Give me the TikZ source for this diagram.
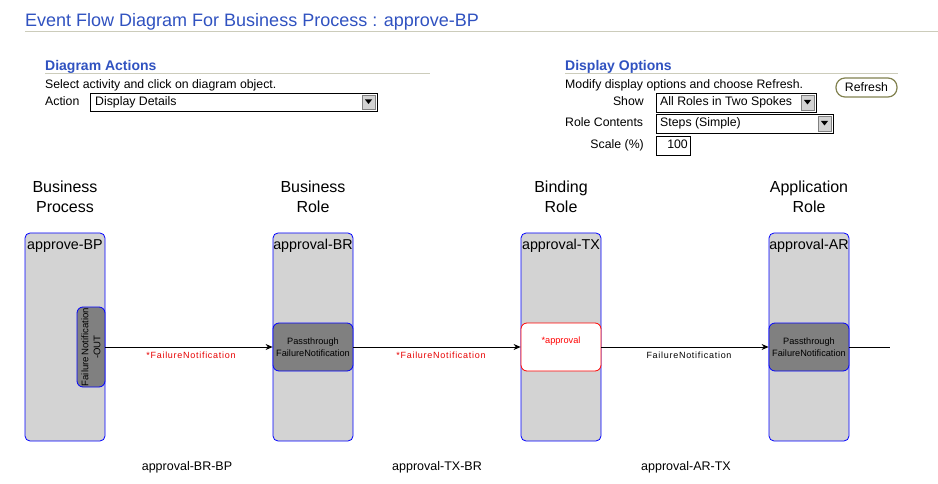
\documentclass[tikz,border=0pt]{standalone}
\usepackage{fontspec}
\setmainfont{Liberation Sans}
\usetikzlibrary{arrows.meta}
\definecolor{titleblue}{RGB}{48,82,192}
\definecolor{rulegray}{RGB}{204,204,187}
\definecolor{lanegray}{RGB}{211,211,211}
\definecolor{stepgray}{RGB}{128,128,128}
\definecolor{btnolive}{RGB}{130,130,80}
\definecolor{flowred}{RGB}{230,0,0}
\begin{document}
\begin{tikzpicture}[x=1pt,y=-1pt,
  txt/.style={inner sep=0pt, font=\fontsize{12.3}{14}\selectfont},
  head/.style={inner sep=0pt, text=titleblue, font=\bfseries\fontsize{14}{16}\selectfont, anchor=base west},
  ddbox/.style={draw=black, fill=white, line width=0.8pt},
  ddbtn/.style={draw=gray, fill=lanegray, line width=0.5pt},
  colhead/.style={inner sep=0pt, align=center, font=\fontsize{16}{20}\selectfont},
  lane/.style={draw=blue, fill=lanegray, rounded corners=5pt, minimum width=80pt, minimum height=208pt, inner sep=0pt, line width=0.8pt},
  lanelabel/.style={inner sep=0pt, font=\fontsize{14.3}{16}\selectfont},
  stepbox/.style={draw=blue, fill=stepgray, rounded corners=6pt, minimum width=80pt, minimum height=48pt, inner sep=0pt, align=center, line width=0.8pt, font=\fontsize{9.2}{11.5}\selectfont},
  flow/.style={draw=black, line width=0.8pt, -{Stealth[length=7pt,width=6pt]}},
  flowlabel/.style={inner sep=0pt, font=\fontsize{9}{11}\selectfont\addfontfeatures{LetterSpace=8}},
  bottomlabel/.style={inner sep=0pt, font=\fontsize{12.5}{14}\selectfont}
]
\useasboundingbox (0,0) rectangle (938,484);
% title
\node[inner sep=0pt, anchor=base west, text=titleblue, font=\fontsize{18}{22}\selectfont] (title) at (25,27) {Event Flow Diagram For Business Process : approve-BP};
\draw[rulegray, line width=1pt] (25,32) -- (938,32);
% diagram actions
\node[head] (da) at (45,71) {Diagram Actions};
\draw[rulegray, line width=1pt] (45,74) -- (430,74);
\node[txt, anchor=base west] (sel) at (45,89) {Select activity and click on diagram object.};
\node[txt, anchor=base west] (act) at (45,106) {Action};
\draw[ddbox] (90,93) rectangle (377,111);
\node[txt, anchor=base west] (actv) at (95,106) {Display Details};
\draw[ddbtn] (362,95) rectangle (375,109);
\fill (365,99.5) -- (372,99.5) -- (368.5,104) -- cycle;
% display options
\node[head] (dop) at (565,71) {Display Options};
\draw[rulegray, line width=1pt] (565,74) -- (898,74);
\node[txt, anchor=base west] (mod) at (565,89) {Modify display options and choose Refresh.};
\draw[draw=btnolive, fill=white, line width=1.2pt, rounded corners=9pt] (836,78) rectangle (897,97);
\node[txt, anchor=base] (refresh) at (866.5,92) {Refresh};
\node[txt, anchor=base east] (show) at (644,106) {Show};
\draw[ddbox] (656,93) rectangle (816,112);
\node[txt, anchor=base west] (showv) at (660,106) {All Roles in Two Spokes};
\draw[ddbtn] (801,95) rectangle (814,110);
\fill (804,100) -- (811,100) -- (807.5,104.5) -- cycle;
\node[txt, anchor=base west] (rc) at (565,127) {Role Contents};
\draw[ddbox] (656,114) rectangle (833,133);
\node[txt, anchor=base west] (rcv) at (660,127) {Steps (Simple)};
\draw[ddbtn] (818,116) rectangle (831,131);
\fill (821,121) -- (828,121) -- (824.5,125.5) -- cycle;
\node[txt, anchor=base east] (scale) at (644,149) {Scale (\%)};
\draw[ddbox] (656,136) rectangle (690,155);
\node[txt, anchor=base east] (scalev) at (688,149) {100};
% column headers
\node[colhead] (h1) at (65,197) {Business\\Process};
\node[colhead] (h2) at (313,197) {Business\\Role};
\node[colhead] (h3) at (561,197) {Binding\\Role};
\node[colhead] (h4) at (809,197) {Application\\Role};
% lanes
\node[lane] (l1) at (65,337) {};
\node[lane] (l2) at (313,337) {};
\node[lane] (l3) at (561,337) {};
\node[lane] (l4) at (809,337) {};
\node[lanelabel] (ll1) at (65,246) {approve-BP};
\node[lanelabel] (ll2) at (313,246) {approval-BR};
\node[lanelabel] (ll3) at (561,246) {approval-TX};
\node[lanelabel] (ll4) at (809,246) {approval-AR};
% steps
\node[stepbox, rotate=90, minimum width=80pt, minimum height=28pt, rounded corners=6pt, font=\fontsize{9.6}{12}\selectfont] (s1) at (91,347) {Failure\,Notification\\-OUT};
\node[stepbox] (s2) at (313,347) {Passthrough\\FailureNotification};
\node[stepbox, draw=red, fill=white, text=red, text depth=14pt] (s3) at (561,347) {*approval};
\node[stepbox] (s4) at (809,347) {Passthrough\\FailureNotification};
\coordinate (endpt) at (890,347);
% flows
\draw[flow] (s1.south) -- (s2.west);
\draw[flow] (s2.east) -- (s3.west);
\draw[flow] (s3.east) -- (s4.west);
\draw[line width=0.8pt] (s4.east) -- (endpt);
\node[flowlabel, text=flowred] (f1) at (191,355) {*FailureNotification};
\node[flowlabel, text=flowred] (f2) at (441,355) {*FailureNotification};
\node[flowlabel] (f3) at (689,355) {FailureNotification};
% bottom labels
\node[bottomlabel] (b1) at (187,467) {approval-BR-BP};
\node[bottomlabel] (b2) at (437,467) {approval-TX-BR};
\node[bottomlabel] (b3) at (686,467) {approval-AR-TX};
\end{tikzpicture}
\end{document}
